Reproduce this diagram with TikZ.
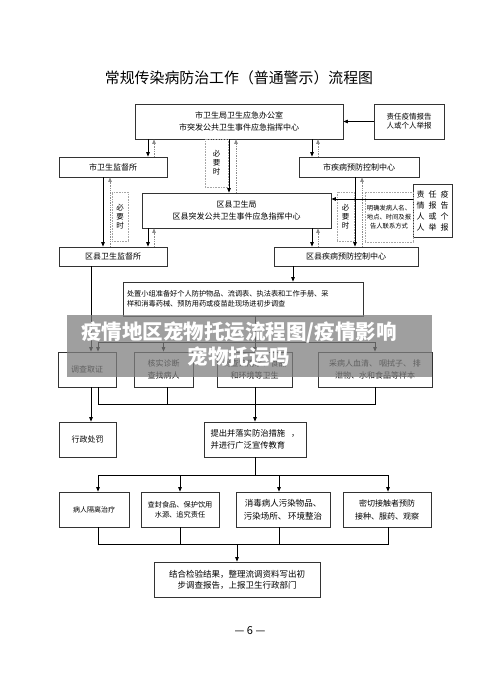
\documentclass[tikz,border=0pt]{standalone}
\usepackage{fontspec}
\setmainfont{Noto Sans CJK SC}
\usetikzlibrary{arrows.meta}
\newcommand{\gap}{\hspace{4pt}}
\begin{document}
\begin{tikzpicture}[x=1pt,y=-1pt,
  box/.style={draw=black!80,line width=0.7pt,inner sep=1pt,align=center,font=\fontsize{8}{12}\selectfont},
  tag/.style={draw=black!35,densely dotted,line width=0.6pt,inner sep=0pt,align=center,font=\fontsize{7.5}{9}\selectfont},
  arr/.style={line width=0.8pt,-{Triangle[length=4.5pt,width=3.5pt]}},
  back/.style={draw=black!45,densely dotted,line width=0.7pt,-{Triangle[length=4.5pt,width=3.5pt]}},
  link/.style={line width=0.7pt}]
\useasboundingbox[fill=white] (0,0) rectangle (500,693);
\node[font=\fontsize{14.9}{18}\selectfont] (title) at (239,78) {常规传染病防治工作（普通警示）流程图};
\node[box,minimum width=208,minimum height=35] (office) at (239,121.5) {市卫生局卫生应急办公室\\市突发公共卫生事件应急指挥中心};
\node[box,minimum width=70,minimum height=35,font=\fontsize{7.5}{9}\selectfont] (report) at (409,121.5) {责任疫情报告\\人或个人举报};
\node[box,minimum width=108,minimum height=20] (supervise) at (113,167) {市卫生监督所};
\node[box,minimum width=120,minimum height=20] (cdc) at (359,167) {市疾病预防控制中心};
\node[box,minimum width=189,minimum height=35] (district) at (236.5,210.5) {区县卫生局\\区县突发公共卫生事件应急指挥中心};
\node[box,minimum width=39,minimum height=53,font=\fontsize{8}{11}\selectfont] (informant) at (432.5,210.5) {责\gap 任\gap 疫\\情\gap 报\gap 告\\人\gap 或\gap 个\\人\gap 举\gap 报};
\node[tag,minimum width=23,minimum height=48] (need1) at (216.5,163) {必\\要\\时};
\node[tag,minimum width=16,minimum height=49] (need2) at (120,216.5) {必\\要\\时};
\node[tag,minimum width=17,minimum height=49] (need3) at (345.5,216.5) {必\\要\\时};
\node[tag,minimum width=48,minimum height=50,font=\fontsize{6.3}{9}\selectfont] (detail) at (389,217) {明确发病人名、\\地点、时间及报\\告人联系方式};
\node[box,minimum width=108,minimum height=19] (dsupervise) at (113,256.5) {区县卫生监督所};
\node[box,minimum width=144,minimum height=19] (dcdc) at (346,256.5) {区县疾病预防控制中心};
\node[box,minimum width=240,minimum height=34,text width=232,align=left,font=\fontsize{7.2}{10}\selectfont] (team) at (243,299) {处置小组准备好个人防护物品、流调表、执法表和工作手册、采\\样和消毒药械、预防用药或疫苗赴现场进初步调查};
\node[box,minimum width=58,minimum height=35] (evidence) at (87,369.5) {调查取证};
\node[box,minimum width=59,minimum height=35] (diagnose) at (163.5,369.5) {核实诊断\\查找病人};
\node[box,minimum width=75,minimum height=35] (hygiene) at (254.5,369.5) {调查饮用水、食品\\和环境等卫生};
\node[box,minimum width=114,minimum height=35] (sample) at (375,369.5) {采病人血清、\ 咽拭子、\ 排\\泄物、水和食品等样本};
\node[box,minimum width=57,minimum height=35] (penalty) at (87.5,439.5) {行政处罚};
\node[box,minimum width=102,minimum height=35,align=left,font=\fontsize{8.3}{12}\selectfont] (measures) at (255,439.5) {提出并落实防治措施\hspace{6pt}，\\并进行广泛宣传教育};
\node[box,minimum width=70,minimum height=35,font=\fontsize{7}{10}\selectfont] (isolate) at (94,509.5) {病人隔离治疗};
\node[box,minimum width=78,minimum height=35,font=\fontsize{7.2}{10}\selectfont] (seal) at (180,509.5) {查封食品、保护饮用\\水源、追究责任};
\node[box,minimum width=94,minimum height=35,font=\fontsize{8.5}{13}\selectfont] (disinfect) at (283,509.5) {消毒病人污染物品、\\污染场所、\ 环境整治};
\node[box,minimum width=88,minimum height=35,font=\fontsize{8}{13}\selectfont] (contact) at (387,509.5) {密切接触者预防\\接种、服药、观察};
\node[box,minimum width=166,minimum height=35,font=\fontsize{8.5}{11}\selectfont] (summary) at (237,579.5) {结合检验结果，整理流调资料写出初\\步调查报告，上报卫生行政部门};
\node[font=\fontsize{11}{13}\selectfont] (page) at (250,631) {— 6 —};
\draw[arr] (report.west) -- (office.east);
\draw[arr] (office.south -| 148,0) -- (supervise.north -| 148,0);
\draw[back] (supervise.north -| 154,0) -- (office.south -| 154,0);
\draw[arr] (office.south -| 312,0) -- (cdc.north -| 312,0);
\draw[back] (cdc.north -| 318,0) -- (office.south -| 318,0);
\draw[arr] (office.south -| 229,0) -- (district.north -| 229,0);
\draw[back] (district.north -| 236,0) -- (office.south -| 236,0);
\draw[arr] (supervise.south -| 103,0) -- (dsupervise.north -| 103,0);
\draw[back] (dsupervise.north -| 110,0) -- (supervise.south -| 110,0);
\draw[arr] (cdc.south -| 355,0) -- (dcdc.north -| 355,0);
\draw[back] (dcdc.north -| 362,0) -- (cdc.south -| 362,0);
\draw[arr] (informant.west |- 0,199) -- (district.east |- 0,199);
\draw[arr] (district.south -| 148,0) -- (dsupervise.north -| 148,0);
\draw[back] (dsupervise.north -| 154,0) -- (district.south -| 154,0);
\draw[arr] (district.south -| 312,0) -- (dcdc.north -| 312,0);
\draw[back] (dcdc.north -| 318,0) -- (district.south -| 318,0);
\draw[arr] (dcdc.south -| 293,0) -- (team.north -| 293,0);
\draw[arr] (dsupervise.south -| 91,0) -- (evidence.north -| 91,0);
\coordinate (s1) at (255,342);
\coordinate (s1l) at (98,342);
\coordinate (s1r) at (375,342);
\draw[link] (team.south -| s1) -- (s1);
\draw[link] (s1l) -- (s1r);
\draw[arr] (s1l) -- (evidence.north -| s1l);
\draw[arr] (diagnose.north |- s1) -- (diagnose.north);
\draw[arr] (s1) -- (hygiene.north -| s1);
\draw[arr] (s1r) -- (sample.north -| s1r);
\coordinate (m1l) at (98,404);
\coordinate (m1r) at (375,404);
\draw[link] (evidence.south -| m1l) -- (m1l) -- (m1r) -- (sample.south -| m1r);
\draw[link] (diagnose.south -| 167,0) -- (m1l -| 167,0);
\draw[arr] (hygiene.south -| measures.north) -- (measures.north);
\draw[arr] (evidence.south -| 91,0) -- (penalty.north -| 91,0);
\coordinate (s2) at (255,475);
\coordinate (s2l) at (98,475);
\coordinate (s2r) at (388,475);
\draw[link] (measures.south) -- (s2);
\draw[link] (s2l) -- (s2r);
\draw[arr] (s2l) -- (isolate.north -| s2l);
\draw[arr] (seal.north |- s2) -- (seal.north);
\draw[arr] (s2 -| 279,0) -- (disinfect.north -| 279,0);
\draw[arr] (s2r) -- (contact.north -| s2r);
\coordinate (m2) at (237,544);
\coordinate (m2l) at (98,544);
\coordinate (m2r) at (388,544);
\draw[link] (isolate.south -| m2l) -- (m2l) -- (m2r) -- (contact.south -| m2r);
\draw[link] (seal.south) -- (seal.south |- m2);
\draw[link] (disinfect.south -| 279,0) -- (m2 -| 279,0);
\draw[arr] (m2) -- (summary.north);
\node[fill=gray,fill opacity=0.75,minimum width=365,minimum height=62,inner sep=0pt] (band) at (249.5,346) {};
\node[text=white,font=\fontsize{20.5}{24}\selectfont\bfseries] (headline) at (239,332) {疫情地区宠物托运流程图/疫情影响};
\node[text=white,font=\fontsize{20.5}{24}\selectfont\bfseries] (subline) at (239,357) {宠物托运吗};
\end{tikzpicture}
\end{document}
